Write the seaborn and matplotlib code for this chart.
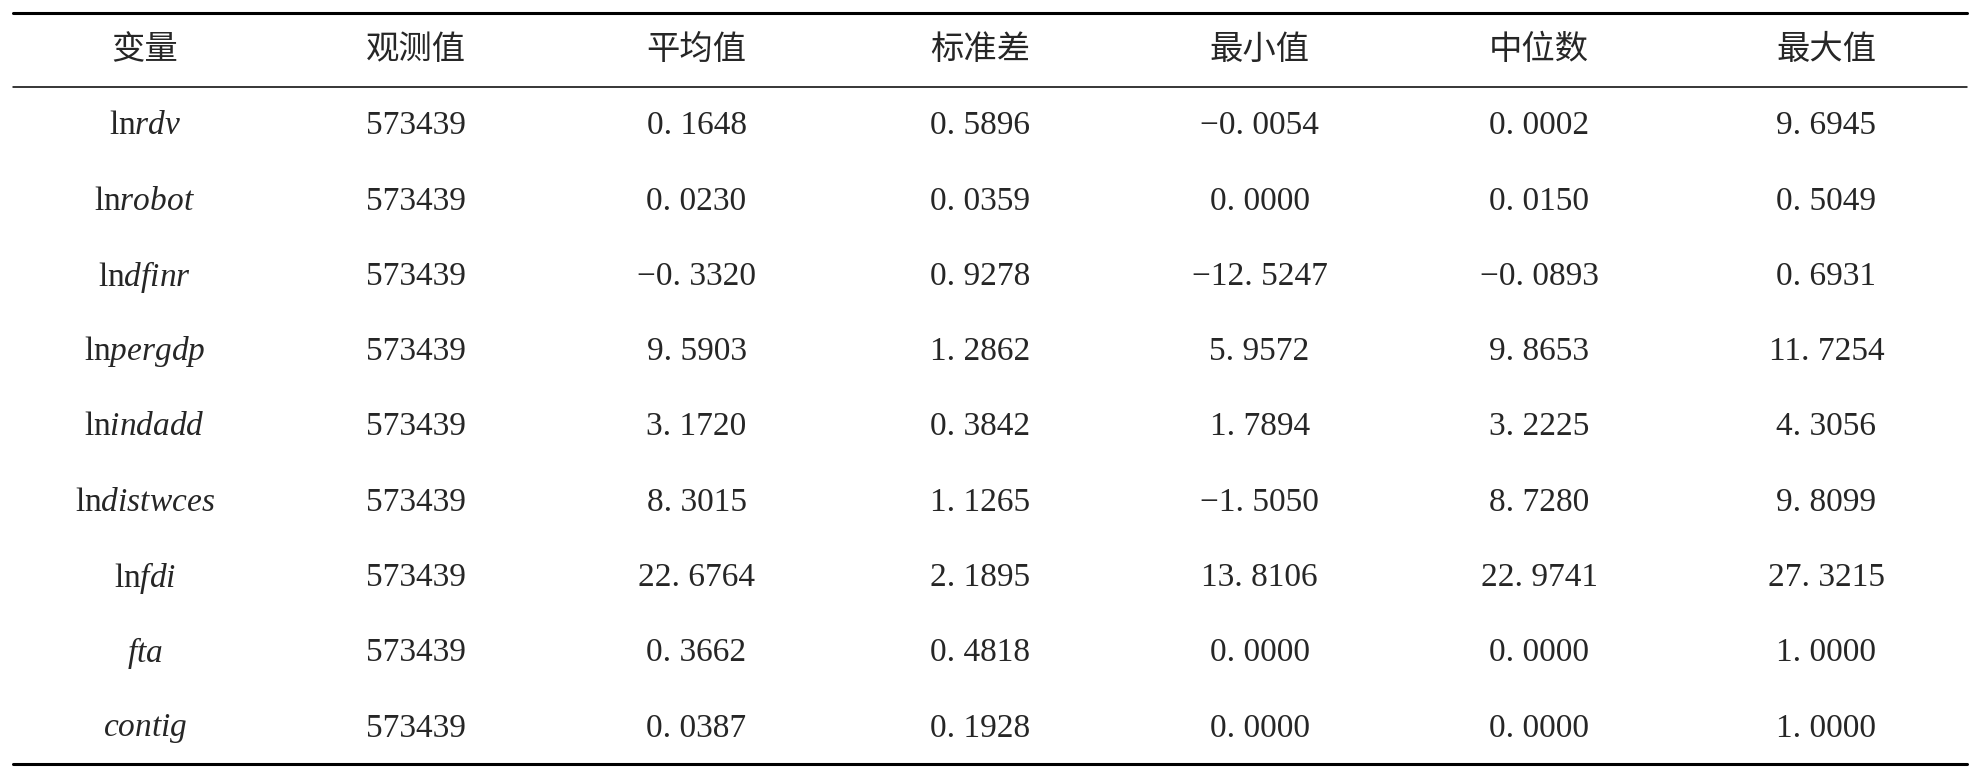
import matplotlib
matplotlib.use("Agg")
import matplotlib.pyplot as plt
import seaborn as sns

sns.set_theme(style="white")
plt.rcParams['font.family'] = ['Liberation Serif', 'Noto Sans CJK SC', 'DejaVu Sans']
plt.rcParams['mathtext.fontset'] = 'custom'
plt.rcParams['mathtext.rm'] = 'Liberation Serif'
plt.rcParams['mathtext.it'] = 'Liberation Serif:italic'

headers = ["变量", "观测值", "平均值", "标准差", "最小值", "中位数", "最大值"]
var_prefix = ["ln", "ln", "ln", "ln", "ln", "ln", "ln", "", ""]
var_names = ["rdv", "robot", "dfinr", "pergdp", "indadd", "distwces", "fdi", "fta", "contig"]
obs = [573439] * 9
means = [0.1648, 0.0230, -0.3320, 9.5903, 3.1720, 8.3015, 22.6764, 0.3662, 0.0387]
sds = [0.5896, 0.0359, 0.9278, 1.2862, 0.3842, 1.1265, 2.1895, 0.4818, 0.1928]
mins = [-0.0054, 0.0000, -12.5247, 5.9572, 1.7894, -1.5050, 13.8106, 0.0000, 0.0000]
medians = [0.0002, 0.0150, -0.0893, 9.8653, 3.2225, 8.7280, 22.9741, 0.0000, 0.0000]
maxs = [9.6945, 0.5049, 0.6931, 11.7254, 4.3056, 9.8099, 27.3215, 1.0000, 1.0000]

def fmt(v):
    return f"{v:.4f}".replace(".", ". ").replace("-", "−")

fig = plt.figure(figsize=(19.75, 7.73), dpi=100)
ax = fig.add_axes([0, 0, 1, 1])
ax.set_xlim(0, 1568)
ax.set_ylim(613, 0)
ax.axis("off")

col_x = [115, 330, 553, 778, 1000, 1222, 1450]
fs = 24
ax.plot([10, 1562], [10, 10], color="black", lw=2.2)
ax.plot([10, 1562], [69, 69], color="black", lw=1.1)
ax.plot([10, 1562], [606, 606], color="black", lw=2.2)

for x, h in zip(col_x, headers):
    ax.text(x, 40, h, ha="center", va="center", fontsize=fs)

row_y0, dy = 100, 59.7
for i in range(len(var_names)):
    y = row_y0 + i * dy
    if var_prefix[i]:
        lab = r"$\mathrm{" + var_prefix[i] + r"}\mathit{" + var_names[i] + "}$"
    else:
        lab = r"$\mathit{" + var_names[i] + "}$"
    ax.text(col_x[0], y, lab, ha="center", va="center", fontsize=fs)
    vals = [str(obs[i]), fmt(means[i]), fmt(sds[i]), fmt(mins[i]), fmt(medians[i]), fmt(maxs[i])]
    for x, v in zip(col_x[1:], vals):
        ax.text(x, y, v, ha="center", va="center", fontsize=fs)

fig.savefig("out.png", dpi=100, facecolor="white")
